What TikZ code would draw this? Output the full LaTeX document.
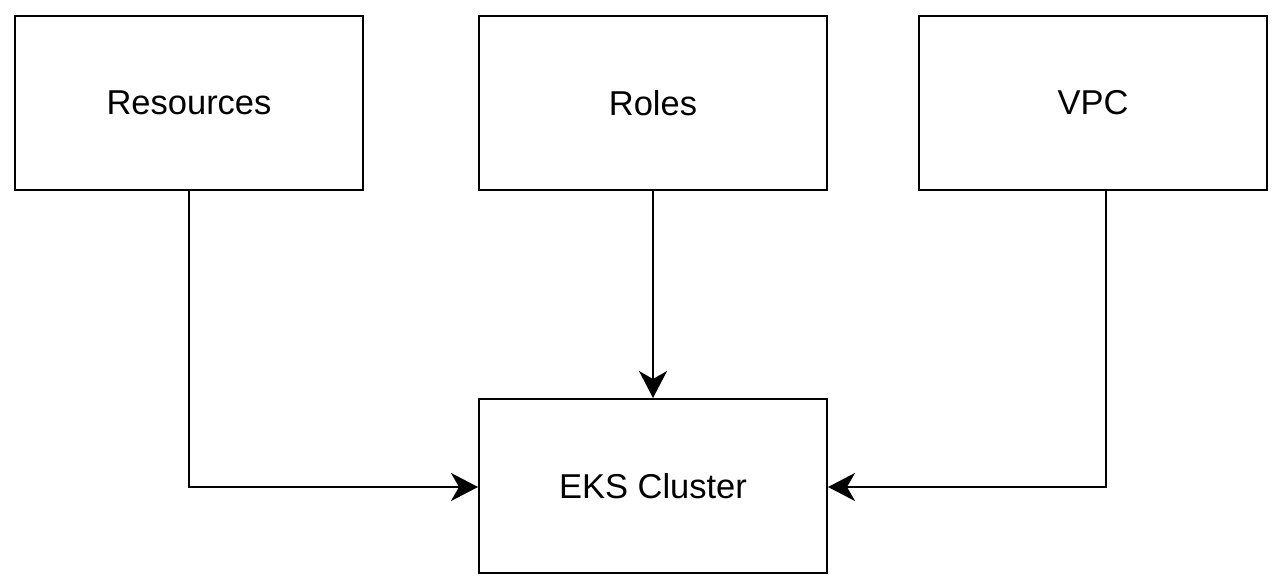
\documentclass[tikz,border=0pt]{standalone}
\usepackage{fontspec}
\setmainfont{Liberation Sans}
\usetikzlibrary{arrows.meta}
\begin{document}
\begin{tikzpicture}[x=1pt,y=-1pt,
  box/.style={draw=black,line width=2pt,minimum width=348pt,minimum height=174pt,inner sep=0pt,font=\fontsize{34.5}{40}\selectfont},
  conn/.style={line width=2pt,-{Stealth[length=27pt,width=28pt,inset=8pt]}}]
\useasboundingbox (0,0) rectangle (1284,588);
\node[box] (res) at (189,103) {Resources};
\node[box] (roles) at (653,103) {Roles};
\node[box] (vpc) at (1093,103) {VPC};
\node[box] (eks) at (653,486) {EKS Cluster};
\coordinate (rc) at (189,487);
\coordinate (vc) at (1106,487);
\draw[conn] (res.south) -- (rc) -- (eks.west |- rc);
\draw[conn] (roles.south) -- (eks.north);
\draw[conn] (vpc.south -| vc) -- (vc) -- (eks.east |- vc);
\end{tikzpicture}
\end{document}
